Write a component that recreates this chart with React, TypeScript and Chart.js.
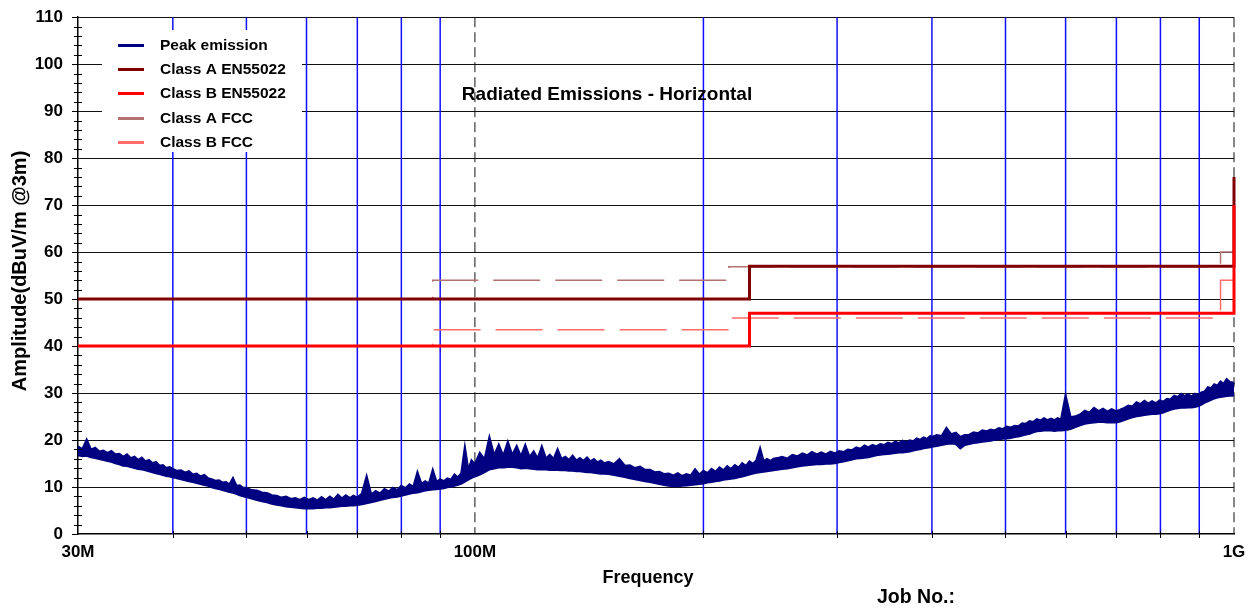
import React, { useEffect, useRef } from "react";
import { Chart, registerables } from "chart.js";

Chart.register(...registerables);

const FONT = '"Liberation Sans", Arial, Helvetica, sans-serif';

// Peak emission trace: [frequency MHz, band low dBuV/m, band high dBuV/m]
const peakEmission: [number, number, number][] = [
  [30.0, 16.8, 18.6], [30.4, 16.6, 18.0], [30.8, 16.7, 20.0], [31.2, 16.4, 17.9], [31.6, 16.2, 18.3], [32.0, 16.0, 17.5],
  [32.4, 15.8, 17.7], [32.8, 15.6, 17.2], [33.2, 15.4, 17.6], [33.6, 15.1, 16.9], [34.0, 14.9, 17.0], [34.4, 14.6, 16.4],
  [34.8, 14.5, 16.9], [35.2, 14.3, 16.1], [35.6, 14.1, 16.4], [36.0, 13.9, 15.7], [36.4, 13.8, 16.2], [36.8, 13.6, 15.4],
  [37.2, 13.4, 15.7], [37.6, 13.2, 15.0], [38.0, 13.0, 15.3], [38.4, 12.8, 14.5], [38.8, 12.6, 14.6], [39.2, 12.4, 14.0],
  [39.6, 12.3, 14.2],
  [40.0, 12.1, 13.8], [40.5, 11.9, 13.4], [41.0, 11.7, 13.5], [41.5, 11.5, 13.0], [42.0, 11.3, 13.3], [42.5, 11.1, 12.6],
  [43.0, 10.9, 12.8], [43.5, 10.7, 12.2], [44.0, 10.5, 12.5], [44.5, 10.3, 11.8], [45.0, 10.0, 11.6], [45.5, 9.8, 11.3],
  [46.0, 9.6, 11.4], [46.5, 9.4, 10.9], [47.0, 9.2, 11.0], [47.5, 9.0, 10.5], [48.0, 8.8, 11.8], [48.5, 8.6, 10.2],
  [49.0, 8.3, 10.3], [49.5, 8.1, 9.8],
  [50.0, 7.9, 9.8], [50.8, 7.6, 9.3], [51.6, 7.3, 9.2], [52.4, 7.0, 8.8], [53.2, 6.8, 8.7], [54.0, 6.5, 8.2],
  [54.8, 6.3, 8.1], [55.6, 6.1, 7.7], [56.4, 5.9, 7.9], [57.2, 5.8, 7.4], [58.0, 5.7, 7.6], [58.8, 5.6, 7.2],
  [59.6, 5.5, 7.7], [60.4, 5.5, 7.2], [61.2, 5.5, 7.6], [62.0, 5.6, 7.1], [62.8, 5.6, 7.8], [63.6, 5.7, 7.2],
  [64.4, 5.7, 7.9], [65.2, 5.8, 7.3], [66.0, 5.9, 8.3], [66.8, 6.0, 7.5], [67.6, 6.0, 8.2], [68.4, 6.1, 7.6],
  [69.2, 6.1, 8.1],
  [70, 6.2, 7.7], [71, 6.4, 8.6], [72, 6.6, 12.1], [73, 6.8, 8.3], [74, 7.0, 9.1], [75, 7.3, 8.6], [76, 7.5, 9.5],
  [77, 7.7, 9.0], [78, 7.9, 9.8], [79, 8.0, 9.3], [80, 8.2, 10.2], [81, 8.4, 9.7], [82, 8.6, 10.5], [83, 8.8, 10.0],
  [84, 8.9, 13.0], [85, 9.1, 10.6], [86, 9.3, 11.2], [87, 9.4, 10.7], [88, 9.5, 13.5], [89, 9.6, 11.0], [90, 9.7, 11.6],
  [91, 9.8, 11.2], [92, 10.0, 11.8], [93, 10.1, 11.5], [94, 10.3, 12.6], [95, 10.5, 12.0], [96, 10.8, 12.9],
  [97, 11.2, 18.2], [98, 11.6, 13.5], [99, 12.0, 15.6],
  [100.0, 12.3, 14.8], [101.5, 12.7, 17.2], [103.0, 13.2, 15.8], [104.5, 13.8, 20.4], [106.0, 14.0, 16.6],
  [107.5, 14.2, 18.9], [109.0, 14.2, 16.5], [110.5, 14.3, 19.5], [112.0, 14.3, 16.7], [113.5, 14.2, 18.6],
  [115.0, 14.0, 16.4], [116.5, 14.1, 18.8], [118.0, 14.0, 16.3], [119.5, 13.9, 17.5], [121.0, 13.8, 16.0],
  [122.5, 13.8, 18.5], [124.0, 13.8, 16.0], [125.5, 13.7, 16.8], [127.0, 13.7, 15.9], [128.5, 13.7, 17.9],
  [130.0, 13.6, 15.9], [131.5, 13.6, 16.4], [133.0, 13.5, 15.7], [134.5, 13.5, 16.6], [136.0, 13.4, 15.6],
  [137.5, 13.4, 16.1], [139.0, 13.3, 15.5], [140.5, 13.2, 16.2], [142.0, 13.2, 15.4], [143.5, 13.1, 15.9],
  [145.0, 13.0, 15.2], [146.5, 12.9, 15.6], [148.0, 12.9, 15.0],
  [150.0, 12.8, 15.3], [152.5, 12.6, 14.8], [155.0, 12.4, 15.9], [157.5, 12.2, 14.5], [160.0, 11.9, 14.6],
  [162.5, 11.7, 14.0], [165.0, 11.5, 14.3], [167.5, 11.3, 13.6], [170.0, 11.1, 13.6], [172.5, 10.9, 13.1],
  [175.0, 10.7, 13.2], [177.5, 10.5, 12.7], [180.0, 10.3, 12.8], [182.5, 10.2, 12.4], [185.0, 10.2, 12.9],
  [187.5, 10.3, 12.3], [190.0, 10.4, 12.7], [192.5, 10.5, 12.4], [195.0, 10.6, 13.7], [197.5, 10.7, 12.6],
  [200.0, 10.8, 13.4], [202.5, 11.0, 12.9], [205.0, 11.1, 13.8], [207.5, 11.3, 13.2], [210.0, 11.4, 14.1],
  [212.5, 11.6, 13.5], [215.0, 11.7, 14.4], [217.5, 11.8, 13.8], [220.0, 11.9, 14.6], [222.5, 12.1, 14.1],
  [225.0, 12.3, 15.0], [227.5, 12.5, 14.4], [230.0, 12.7, 15.4], [232.5, 12.9, 14.9], [235.0, 13.1, 15.7],
  [237.5, 13.2, 18.1], [240.0, 13.3, 15.4], [242.5, 13.4, 15.9], [245.0, 13.5, 15.5], [247.5, 13.6, 16.0],
  [250, 13.7, 16.1], [254, 13.9, 16.4], [258, 14.0, 16.0], [262, 14.2, 16.8], [266, 14.4, 16.5], [270, 14.6, 17.1],
  [274, 14.7, 16.7], [278, 14.8, 17.4], [282, 14.9, 16.9], [286, 14.9, 17.3], [290, 15.0, 16.9], [294, 15.0, 17.5],
  [298, 15.1, 17.1], [302, 15.3, 17.6], [306, 15.5, 17.4], [310, 15.7, 17.9], [314, 15.9, 17.8], [318, 16.1, 18.4],
  [322, 16.2, 18.1], [326, 16.3, 18.8], [330, 16.4, 18.4], [334, 16.6, 18.9], [338, 16.8, 18.6], [342, 16.9, 19.1],
  [346, 17.0, 18.9], [350, 17.1, 19.4], [354, 17.2, 19.1], [358, 17.3, 19.6], [362, 17.4, 19.3], [366, 17.4, 19.8],
  [370, 17.5, 19.5], [374, 17.6, 19.9], [378, 17.8, 19.7], [382, 18.0, 20.3], [386, 18.1, 20.0], [390, 18.3, 20.5],
  [394, 18.4, 20.2], [398, 18.5, 20.8],
  [400, 18.6, 20.6], [406, 18.8, 21.0], [412, 19.0, 20.8], [418, 19.2, 22.5], [424, 19.3, 21.2], [430, 19.2, 21.5],
  [436, 18.3, 20.6], [442, 19.0, 21.0], [448, 19.2, 21.1], [454, 19.4, 21.6], [460, 19.5, 21.4], [466, 19.7, 22.0],
  [472, 19.8, 21.8], [478, 19.9, 22.2], [484, 20.1, 22.0], [490, 20.2, 22.5], [496, 20.3, 22.3], [502, 20.4, 22.8],
  [508, 20.5, 22.6], [514, 20.7, 23.0], [520, 20.8, 22.9], [526, 21.0, 23.5], [532, 21.2, 23.4], [538, 21.4, 24.0],
  [544, 21.7, 23.8], [550, 21.9, 24.4], [556, 22.0, 24.1], [562, 22.1, 24.6], [568, 22.1, 24.2], [574, 22.1, 24.5],
  [580, 22.0, 24.2], [586, 22.1, 24.6], [592, 22.1, 24.3],
  [600, 22.2, 29.3], [609, 22.4, 24.8], [618, 22.8, 25.0], [627, 23.2, 25.4], [636, 23.5, 26.2], [645, 23.7, 25.8],
  [654, 23.8, 26.8], [663, 23.9, 26.1], [672, 23.9, 26.6], [681, 23.8, 26.0], [690, 23.8, 26.5], [699, 23.8, 26.1],
  [708, 24.0, 26.4], [717, 24.3, 26.8], [726, 24.6, 27.3], [735, 24.9, 27.1], [744, 25.1, 28.0], [753, 25.2, 27.6],
  [762, 25.4, 28.3], [771, 25.5, 27.7], [780, 25.6, 28.2], [789, 25.6, 27.8], [798, 25.7, 28.4], [807, 25.9, 28.1],
  [816, 26.2, 28.7], [825, 26.5, 28.6], [834, 26.7, 29.4], [843, 26.8, 29.1], [852, 26.9, 29.8], [861, 26.9, 29.3],
  [870, 27.0, 29.7], [879, 27.0, 29.2], [888, 27.1, 29.8], [897, 27.3, 29.5], [906, 27.6, 30.1], [915, 28.0, 30.3],
  [924, 28.3, 31.2], [933, 28.6, 31.0], [942, 28.9, 31.8], [951, 29.1, 31.5], [960, 29.2, 32.4], [969, 29.3, 31.9],
  [978, 29.4, 32.9], [987, 29.5, 32.3], [996, 29.5, 32.2], [1000, 29.6, 31.8],
];

// Limit lines (corner points)
const classAEnFreq = [30, 230, 230, 1000, 1000];
const classAEnLevel = [50, 50, 57, 57, 76];
const classBEnFreq = [30, 230, 230, 1000, 1000];
const classBEnLevel = [40, 40, 47, 47, 70];
const classAFccFreq = [30, 88, 88, 216, 216, 960, 960, 1000];
const classAFccLevel = [50, 50, 54, 54, 56.9, 56.9, 60, 60];
const classBFccFreq = [30, 88, 88, 216, 216, 960, 960, 1000];
const classBFccLevel = [40, 40, 43.5, 43.5, 46, 46, 54, 54];

const seriesNames = ["Peak emission", "Class A EN55022", "Class B EN55022", "Class A FCC", "Class B FCC"];
const seriesColors = ["#000080", "#800000", "#ff0000", "#b47171", "#ff6a6a"];

const xTickValues = [30, 40, 50, 60, 70, 80, 90, 100, 200, 300, 400, 500, 600, 700, 800, 900, 1000];
const xTickLabels: Record<number, string> = { 30: "30M", 100: "100M", 1000: "1G" };
const xDecadeLines = [100, 1000];
const yMajorTicks = [0, 10, 20, 30, 40, 50, 60, 70, 80, 90, 100, 110];
const yMinorTicks = [2, 4, 6, 8, 12, 14, 16, 18, 22, 24, 26, 28, 32, 34, 36, 38, 42, 44, 46, 48, 52, 54, 56, 58, 62, 64, 66, 68, 72, 74, 76, 78, 82, 84, 86, 88, 92, 94, 96, 98, 102, 104, 106, 108];

const chartTitle = "Radiated Emissions - Horizontal";
const yTitle = "Amplitude(dBuV/m @3m)";
const xTitle = "Frequency";
const jobText = "Job No.:";

const pts = (xs: number[], ys: number[]) => xs.map((x, i) => ({ x, y: ys[i] }));

const decor = {
  id: "decor",
  beforeDatasetsDraw(chart: any) {
    const { ctx, chartArea, scales } = chart;
    const { left, right, top, bottom } = chartArea;
    const x = scales.x;
    const y = scales.y;
    ctx.save();
    ctx.lineWidth = 1;
    ctx.strokeStyle = "#111";
    for (const v of yMajorTicks) {
      if (v === 0) continue;
      const py = Math.round(y.getPixelForValue(v)) + 0.5;
      ctx.beginPath();
      ctx.moveTo(left, py);
      ctx.lineTo(right, py);
      ctx.stroke();
    }
    for (const v of xTickValues) {
      if (v === 30) continue;
      const px = x.getPixelForValue(v);
      ctx.beginPath();
      if (xDecadeLines.includes(v)) {
        ctx.strokeStyle = "#111";
        ctx.lineWidth = 1;
        ctx.setLineDash([10, 5]);
      } else {
        ctx.strokeStyle = "#1010ff";
        ctx.lineWidth = 1.5;
        ctx.setLineDash([]);
      }
      ctx.moveTo(px, top);
      ctx.lineTo(px, bottom);
      ctx.stroke();
    }
    ctx.setLineDash([]);
    ctx.fillStyle = "#fff";
    ctx.fillRect(102, 30, 200, 122);
    const rows = [45, 69, 93, 118, 142];
    ctx.font = `bold 15.5px ${FONT}`;
    ctx.textBaseline = "middle";
    ctx.textAlign = "left";
    seriesNames.forEach((name, i) => {
      ctx.strokeStyle = seriesColors[i];
      ctx.lineWidth = 3;
      ctx.beginPath();
      ctx.moveTo(118, rows[i] + 0.5);
      ctx.lineTo(144, rows[i] + 0.5);
      ctx.stroke();
      ctx.fillStyle = "#000";
      ctx.fillText(name, 160, rows[i] + 1);
    });
    ctx.restore();
  },
  afterDraw(chart: any) {
    const { ctx, chartArea, scales } = chart;
    const { left, bottom } = chartArea;
    const x = scales.x;
    const y = scales.y;
    ctx.save();
    ctx.strokeStyle = "#000";
    ctx.lineWidth = 1;
    for (const v of yMajorTicks) {
      const py = Math.round(y.getPixelForValue(v)) + 0.5;
      ctx.beginPath();
      ctx.moveTo(left - 6, py);
      ctx.lineTo(left, py);
      ctx.stroke();
    }
    for (const v of yMinorTicks) {
      const py = Math.round(y.getPixelForValue(v)) + 0.5;
      ctx.beginPath();
      ctx.moveTo(left - 4, py);
      ctx.lineTo(left + 4, py);
      ctx.stroke();
    }
    for (const v of xTickValues) {
      if (v === 30 || xDecadeLines.includes(v)) continue;
      const px = Math.round(x.getPixelForValue(v)) + 0.5;
      ctx.beginPath();
      ctx.moveTo(px, bottom - 3);
      ctx.lineTo(px, bottom + 4);
      ctx.stroke();
    }
    ctx.fillStyle = "#000";
    ctx.textAlign = "center";
    ctx.textBaseline = "middle";
    ctx.font = `bold 19px ${FONT}`;
    ctx.fillText(chartTitle, 607, 95);
    ctx.font = `bold 18px ${FONT}`;
    ctx.fillText(xTitle, 648, 578);
    ctx.font = `bold 19.5px ${FONT}`;
    ctx.fillText(jobText, 916, 598);
    ctx.font = `bold 20px ${FONT}`;
    ctx.translate(20, 271);
    ctx.rotate(-Math.PI / 2);
    ctx.fillText(yTitle, 0, 0);
    ctx.restore();
  },
};

export default function App() {
  const ref = useRef<HTMLCanvasElement>(null);
  useEffect(() => {
    const canvas = ref.current!;
    const chart = new Chart(canvas, {
      type: "line",
      data: {
        datasets: [
          {
            label: seriesNames[0],
            data: peakEmission.map(([f, , hi]) => ({ x: f, y: hi })),
            borderColor: seriesColors[0],
            backgroundColor: seriesColors[0],
            borderWidth: 2.5,
            pointRadius: 0,
            fill: "+1",
            order: 0,
            clip: false,
          },
          {
            label: seriesNames[0] + " (floor)",
            data: peakEmission.map(([f, lo]) => ({ x: f, y: lo })),
            borderColor: seriesColors[0],
            borderWidth: 2.5,
            pointRadius: 0,
            fill: false,
            order: 0,
            clip: false,
          },
          {
            label: seriesNames[1],
            data: pts(classAEnFreq, classAEnLevel),
            borderColor: seriesColors[1],
            borderWidth: 3,
            pointRadius: 0,
            order: 2,
            clip: false,
          },
          {
            label: seriesNames[2],
            data: pts(classBEnFreq, classBEnLevel),
            borderColor: seriesColors[2],
            borderWidth: 3,
            pointRadius: 0,
            order: 1,
            clip: false,
          },
          {
            label: seriesNames[3],
            data: pts(classAFccFreq, classAFccLevel),
            borderColor: seriesColors[3],
            borderWidth: 1.5,
            borderDash: [47, 15],
            pointRadius: 0,
            order: 4,
            clip: false,
          },
          {
            label: seriesNames[4],
            data: pts(classBFccFreq, classBFccLevel),
            borderColor: seriesColors[4],
            borderWidth: 1.5,
            borderDash: [47, 15],
            pointRadius: 0,
            order: 3,
            clip: false,
          },
        ],
      } as any,
      options: {
        responsive: false,
        animation: false,
        devicePixelRatio: 1,
        events: [],
        layout: { padding: { top: 15, right: 21, left: 0, bottom: 0 } },
        plugins: {
          legend: { display: false },
          title: { display: false },
          tooltip: { enabled: false },
          filler: { propagate: false },
        },
        scales: {
          x: {
            type: "logarithmic",
            min: 30,
            max: 1000,
            afterBuildTicks: (s: any) => {
              s.ticks = xTickValues.map((v) => ({ value: v }));
            },
            afterFit: (s: any) => {
              s.height = 80;
            },
            grid: { display: false },
            border: { display: true, color: "#000", width: 1.5 },
            ticks: {
              autoSkip: false,
              maxRotation: 0,
              minRotation: 0,
              padding: 0,
              color: "#000",
              font: { family: FONT, size: 17, weight: "bold" },
              callback: (v: any) => xTickLabels[Number(v)] ?? "",
            },
          },
          y: {
            min: 0,
            max: 110,
            afterBuildTicks: (s: any) => {
              s.ticks = yMajorTicks.map((v) => ({ value: v }));
            },
            afterFit: (s: any) => {
              s.width = 78;
            },
            grid: { display: false },
            border: { display: true, color: "#000", width: 1.5 },
            ticks: {
              padding: 7,
              color: "#000",
              font: { family: FONT, size: 17, weight: "bold" },
              callback: (v: any) => String(v),
            },
          },
        },
      } as any,
      plugins: [decor],
    });
    return () => chart.destroy();
  }, []);
  return (
    <div style={{ position: "absolute", left: 0, top: 0, width: 1255, height: 614, background: "#fff" }}>
      <canvas ref={ref} width={1255} height={614} style={{ display: "block", width: 1255, height: 614 }} />
    </div>
  );
}
